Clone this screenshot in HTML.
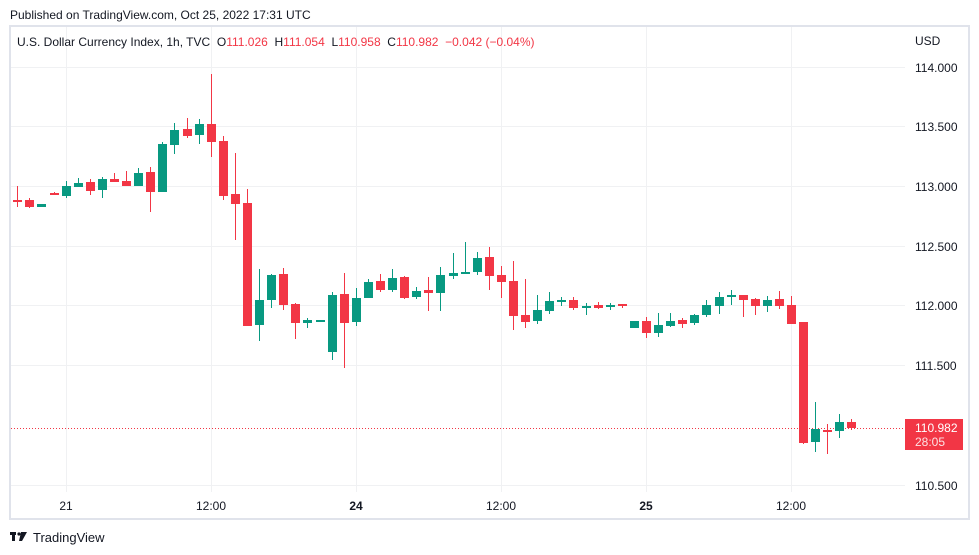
<!DOCTYPE html>
<html><head><meta charset="utf-8"><style>
html,body{margin:0;padding:0;background:#fff;}
body{width:979px;height:555px;overflow:hidden;position:relative;font-family:"Liberation Sans","DejaVu Sans",sans-serif;}
</style></head><body>
<svg width="979" height="555" viewBox="0 0 979 555" xmlns="http://www.w3.org/2000/svg" style="position:absolute;left:0;top:0">
<text x="10" y="19" font-size="12" fill="#131722" font-family="Liberation Sans, sans-serif">Published on TradingView.com, Oct 25, 2022 17:31 UTC</text>
<rect x="10" y="26" width="959" height="493" fill="#fff" stroke="#e0e3eb" stroke-width="2"/>
<g stroke="#f0f1f3" stroke-width="1">
<line x1="11" x2="905" y1="67.5" y2="67.5"/><line x1="11" x2="905" y1="126.5" y2="126.5"/><line x1="11" x2="905" y1="186.5" y2="186.5"/><line x1="11" x2="905" y1="246.5" y2="246.5"/><line x1="11" x2="905" y1="305.5" y2="305.5"/><line x1="11" x2="905" y1="365.5" y2="365.5"/><line x1="11" x2="905" y1="485.5" y2="485.5"/>
<line x1="66.5" x2="66.5" y1="27" y2="492"/><line x1="211.5" x2="211.5" y1="27" y2="492"/><line x1="356.5" x2="356.5" y1="27" y2="492"/><line x1="501.5" x2="501.5" y1="27" y2="492"/><line x1="646.5" x2="646.5" y1="27" y2="492"/><line x1="791.5" x2="791.5" y1="27" y2="492"/>
</g>
<text x="17" y="46" font-size="12" fill="#131722" xml:space="preserve">U.S. Dollar Currency Index, 1h, TVC  <tspan>O</tspan><tspan fill="#f23645">111.026</tspan>  <tspan>H</tspan><tspan fill="#f23645">111.054</tspan>  <tspan>L</tspan><tspan fill="#f23645">110.958</tspan>  <tspan>C</tspan><tspan fill="#f23645">110.982  −0.042 (−0.04%)</tspan></text>
<g font-size="12" fill="#131722">
<text x="915" y="45">USD</text>
<text x="915" y="72">114.000</text><text x="915" y="131">113.500</text><text x="915" y="191">113.000</text><text x="915" y="251">112.500</text><text x="915" y="310">112.000</text><text x="915" y="370">111.500</text><text x="915" y="490">110.500</text>
<g text-anchor="middle"><text x="66" y="510">21</text><text x="211" y="510">12:00</text><text x="356" y="510" font-weight="bold">24</text><text x="501" y="510">12:00</text><text x="646" y="510" font-weight="bold">25</text><text x="791" y="510">12:00</text></g>
</g>
<line x1="11" x2="905" y1="428.5" y2="428.5" stroke="#f23645" stroke-width="1" stroke-dasharray="1,2"/>
<g id="c"></g>
<rect x="905" y="419" width="58" height="31" fill="#f23645"/>
<text x="915" y="432" font-size="12" fill="#fff">110.982</text>
<text x="915" y="446" font-size="12" fill="#fff" opacity="0.85">28:05</text>
<g fill="#131722"><rect x="10" y="532" width="6" height="3"/><rect x="12" y="532" width="3" height="9"/><circle cx="19" cy="534" r="1.6"/><path d="M21 532 L27 532 L22 541 L19 541 Z"/></g>
<text x="33" y="542" font-size="13" fill="#131722">TradingView</text>
</svg>
<script>
var d=[
[17,200,202,186,207,0],[29,200,207,198,208,0],[41,207,204,204,207,1],[54,193,195,192,195,0],[66,196,186,181,198,1],[78,187,183,178,187,1],[90,182,191,179,195,0],[102,190,179,177,198,1],[114,179,182,173,182,0],[126,181,186,171,186,0],[138,186,173,168,186,1],[150,172,192,167,212,0],[162,192,144,142,192,1],[174,145,130,123,154,1],[187,129,136,118,138,0],[199,135,124,119,144,1],[211,124,142,74,157,0],[223,141,196,136,200,0],[235,194,204,153,240,0],[247,203,326,189,326,0],[259,325,300,269,341,1],[271,300,275,274,308,1],[283,274,305,268,310,0],[295,304,323,303,339,0],[307,323,320,318,328,1],[320,321,320,320,321,1],
[332,352,295,292,360,1],[344,294,323,273,368,0],[356,322,298,288,326,1],[368,298,282,279,298,1],[380,281,290,274,292,0],[392,290,278,269,292,1],[404,277,298,276,299,0],[416,297,291,287,299,1],[428,290,293,277,311,0],[440,293,275,267,311,1],[453,276,273,253,279,1],[465,273,272,242,273,1],[477,272,258,252,275,1],[489,257,276,247,290,0],[501,275,282,266,298,0],[513,281,316,261,330,0],[525,315,322,279,328,0],[537,321,310,295,324,1],[549,311,301,292,314,1],[561,302,300,297,306,1],[573,300,308,297,310,0],[586,307,306,303,315,1],[598,305,308,302,309,0],[610,307,305,303,310,1],[622,304,306,304,308,0],
[634,328,321,321,328,1],[646,321,333,317,338,0],[658,333,325,313,337,1],[670,326,321,313,327,1],[682,320,324,318,328,0],[694,323,315,314,325,1],[706,315,305,300,317,1],[719,306,297,292,314,1],[731,296,295,290,305,1],[743,295,300,295,317,0],[755,299,306,298,315,0],[767,306,300,296,312,1],[779,299,306,291,309,0],[791,305,324,296,324,0],[803,322,443,322,444,0],[815,442,429,402,452,1],[827,430,432,424,454,0],[839,431,422,414,438,1],[851,422,428,419,430,0]];
var s='';
d.forEach(function(c){var col=c[5]?'#089981':'#f23645';var t=Math.min(c[1],c[2]),h=Math.max(2,Math.abs(c[1]-c[2]));
s+='<line x1="'+(c[0]+.5)+'" x2="'+(c[0]+.5)+'" y1="'+c[3]+'" y2="'+c[4]+'" stroke="'+col+'" stroke-width="1"/>';
s+='<rect x="'+(c[0]-4)+'" y="'+t+'" width="9" height="'+h+'" fill="'+col+'"/>';});
document.getElementById('c').innerHTML=s;
</script>
</body></html>
